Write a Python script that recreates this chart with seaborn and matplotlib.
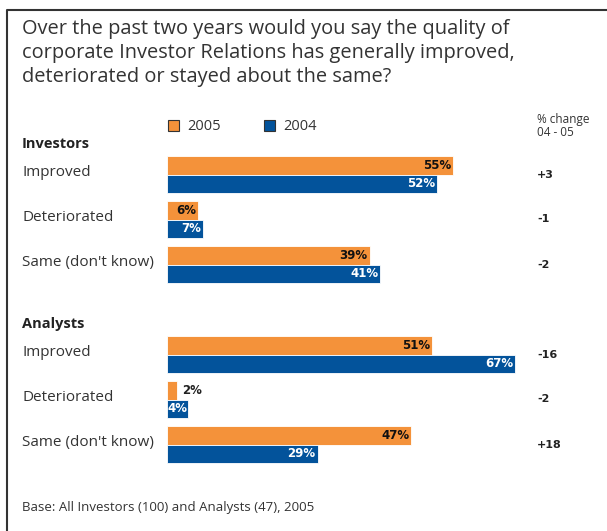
import matplotlib
matplotlib.use("Agg")
import matplotlib.pyplot as plt
import matplotlib.transforms as mtransforms
from matplotlib.patches import Patch
from matplotlib.lines import Line2D
import seaborn as sns
import pandas as pd

# ---- data ----
title = ("Over the past two years would you say the quality of\n"
         "corporate Investor Relations has generally improved,\n"
         "deteriorated or stayed about the same?")
groups = ["Investors", "Analysts"]
responses = ["Improved", "Deteriorated", "Same (don't know)"]
investors_2005 = [55, 6, 39]
investors_2004 = [52, 7, 41]
analysts_2005 = [51, 2, 47]
analysts_2004 = [67, 4, 29]
investors_change = ["+3", "-1", "-2"]
analysts_change = ["-16", "-2", "+18"]
years = ["2005", "2004"]
footnote = "Base: All Investors (100) and Analysts (47), 2005"

ORANGE = "#F4923A"
BLUE = "#03539B"

rows = []
for g, v05, v04 in [("Investors", investors_2005, investors_2004),
                    ("Analysts", analysts_2005, analysts_2004)]:
    for r, a, b in zip(responses, v05, v04):
        rows.append({"row": f"{g}|{r}", "year": "2005", "value": a})
        rows.append({"row": f"{g}|{r}", "year": "2004", "value": b})
df = pd.DataFrame(rows)
order = [f"Investors|{r}" for r in responses] + ["gap"] + [f"Analysts|{r}" for r in responses]

sns.set_style("white")
plt.rcParams["font.family"] = ["Open Sans", "DejaVu Sans"]
BOLD_NUM = ["DejaVu Sans"]

W, H = 607, 531
fig = plt.figure(figsize=(W / 100, H / 100), dpi=100)
ax_left, ax_right = 167, 167 + 70 * 5.2
ax_top, ax_bot = 152, 467
ax = fig.add_axes([ax_left / W, 1 - ax_bot / H, (ax_right - ax_left) / W, (ax_bot - ax_top) / H])

sns.barplot(data=df, y="row", x="value", hue="year", order=order, hue_order=years,
            palette=[ORANGE, BLUE], orient="h", width=0.84, ax=ax, legend=False,
            edgecolor="white", linewidth=0.6, saturation=1)
ax.set_xlim(0, 70)
ax.set_ylim(len(order) - 0.5, -0.5)
ax.set_xlabel("")
ax.set_ylabel("")
ax.set_xticks([])
ax.set_yticks([])
for s in ax.spines.values():
    s.set_visible(False)

# bar value labels
for ci, cont in enumerate(ax.containers):
    for p in cont:
        w = p.get_width()
        yc = p.get_y() + p.get_height() / 2
        txt = f"{int(round(w))}%"
        color = "#111111" if ci == 0 else "white"
        if w < 3:
            ax.text(w + 0.9, yc, txt, ha="left", va="center", fontsize=8.5,
                    fontweight="bold", color="#222222", family=BOLD_NUM)
        elif w < 5:
            ax.text(w / 2, yc, txt, ha="center", va="center", fontsize=8.5,
                    fontweight="bold", color=color, family=BOLD_NUM)
        else:
            ax.text(w - 0.4, yc, txt, ha="right", va="center", fontsize=8.5,
                    fontweight="bold", color=color, family=BOLD_NUM)

# row labels and change column
tr = mtransforms.blended_transform_factory(fig.transFigure, ax.transData)
x_lab = 22 / W
x_chg = 537 / W
for gi, (g, chg) in enumerate([("Investors", investors_change), ("Analysts", analysts_change)]):
    base = 0 if gi == 0 else 4
    ax.text(x_lab, base - 0.67, g, transform=tr, ha="left", va="center",
            fontsize=10.5, fontweight="bold", color="#222222")
    for i, r in enumerate(responses):
        ax.text(x_lab, base + i - 0.05, r, transform=tr, ha="left", va="center",
                fontsize=11, color="#333333")
        ax.text(x_chg, base + i, chg[i], transform=tr, ha="left", va="center",
                fontsize=8, fontweight="bold", color="#222222", family=BOLD_NUM)

# title
fig.text(22 / W, 1 - 19 / H, title, ha="left", va="top", fontsize=14.4,
         color="#333333", linespacing=1.26)

# % change header
fig.text(537 / W, 1 - 113 / H, "% change\n04 - 05", ha="left", va="top",
         fontsize=8.5, color="#333333", linespacing=1.05)

# legend
handles = [Patch(facecolor=ORANGE, edgecolor="#333333", linewidth=0.8),
           Patch(facecolor=BLUE, edgecolor="#333333", linewidth=0.8)]
fig.legend(handles, years, loc="center left", bbox_to_anchor=(155 / W, 1 - 127 / H),
           ncol=2, frameon=False, handlelength=0.75, handleheight=0.75,
           handletextpad=0.55, columnspacing=3.0, fontsize=10.5,
           labelcolor="#333333")

# footnote
fig.text(22 / W, 1 - 507 / H, footnote, ha="left", va="center", fontsize=9.5,
         color="#333333")

# frame
fig.add_artist(Line2D([7 / W, 7 / W, 1.0], [0.0, 1 - 10 / H, 1 - 10 / H],
                      transform=fig.transFigure, color="#333333", linewidth=1.5))

fig.savefig("out.png", dpi=100)
